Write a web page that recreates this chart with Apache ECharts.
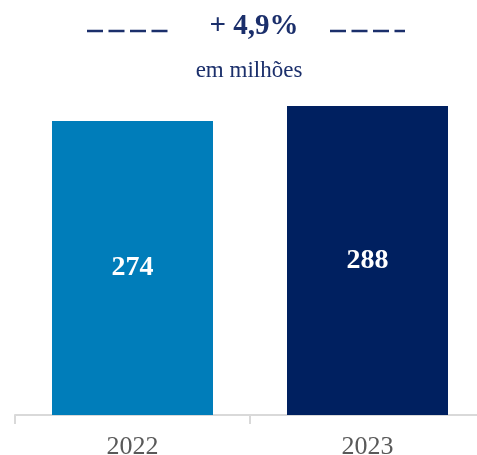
<!DOCTYPE html>
<html>
<head>
<meta charset="utf-8">
<script src="https://cdn.jsdelivr.net/npm/echarts@6/dist/echarts.min.js"></script>
<style>
html,body{margin:0;padding:0;background:#fff;}
#chart{width:477px;height:455px;}
</style>
</head>
<body>
<div id="chart"></div>
<script>
const categories = ['2022', '2023'];
const values = [274, 288];
const growthLabel = '+ 4,9%';
const unitLabel = 'em milhões';

const barColors = ['#007DBA', '#002060'];
const navy = '#1B2F6B';
const serif = '"Liberation Serif", "Times New Roman", serif';

const chart = echarts.init(document.getElementById('chart'), null, {renderer: 'canvas'});
chart.setOption({
  animation: false,
  grid: {left: 15, width: 470, top: 93, height: 322, outerBoundsMode: 'none', containLabel: false},
  xAxis: {
    type: 'category',
    data: categories,
    axisLine: {lineStyle: {color: '#d9d9d9', width: 2}},
    axisTick: {show: true, length: 9, lineStyle: {color: '#d9d9d9', width: 2}},
    axisLabel: {color: '#595959', fontSize: 26, fontFamily: serif, margin: 19}
  },
  yAxis: {type: 'value', min: 0, max: 300, show: false, splitLine: {show: false}},
  series: [{
    type: 'bar',
    data: values,
    barWidth: 161,
    itemStyle: {color: p => barColors[p.dataIndex]},
    label: {
      show: true, position: 'inside', color: '#fff',
      fontSize: 28, fontWeight: 'bold', fontFamily: serif
    }
  }],
  graphic: [
    {type: 'line', shape: {x1: 87, y1: 31, x2: 170, y2: 31},
     style: {stroke: navy, lineWidth: 2.5, lineDash: [16, 5.5]}},
    {type: 'line', shape: {x1: 330, y1: 31, x2: 405, y2: 31},
     style: {stroke: navy, lineWidth: 2.5, lineDash: [16, 5.5]}},
    {type: 'text', x: 254, y: 27,
     style: {text: growthLabel, font: 'bold 29px ' + serif, fill: navy,
             textAlign: 'center', textVerticalAlign: 'middle'}},
    {type: 'text', x: 249, y: 71,
     style: {text: unitLabel, font: '23px ' + serif, fill: navy,
             textAlign: 'center', textVerticalAlign: 'middle'}}
  ]
});
</script>
</body>
</html>
